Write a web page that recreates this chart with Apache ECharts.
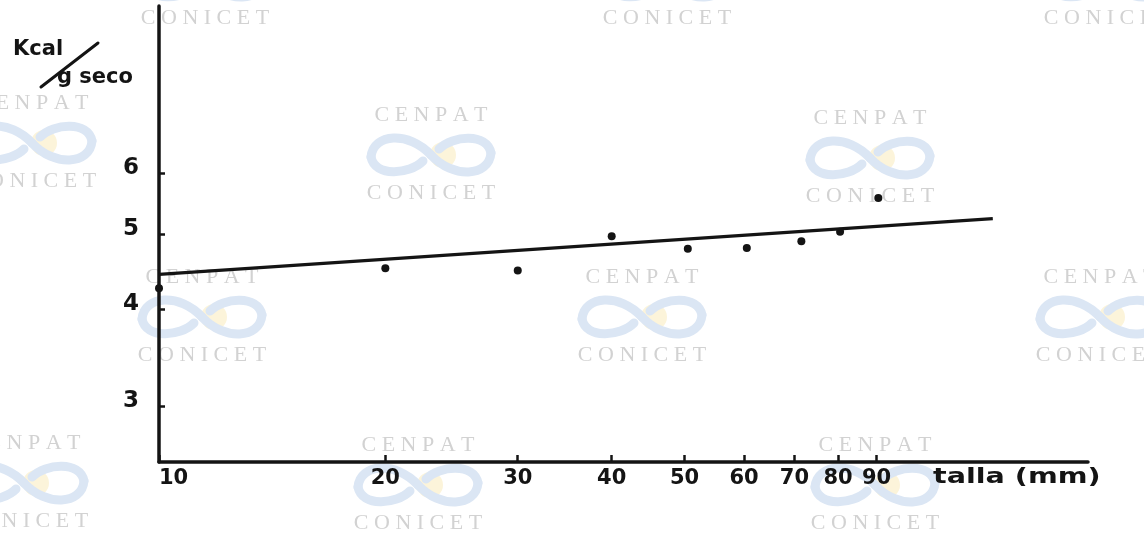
<!DOCTYPE html>
<html>
<head>
<meta charset="utf-8">
<title>Kcal / g seco vs talla</title>
<script src="https://cdn.jsdelivr.net/npm/echarts@6/dist/echarts.min.js"></script>
<style>
  html, body { margin: 0; padding: 0; background: #ffffff; }
  #chart { width: 1144px; height: 541px; }
</style>
</head>
<body>
<div id="chart"></div>
<script>
// Energy content (Kcal per g dry weight) against size class (mm), both axes logarithmic
const tallaTicks = [10, 20, 30, 40, 50, 60, 70, 80, 90];
const kcalTicks = [3, 4, 5, 6];

// measured points
const talla = [10, 20, 30, 40, 50.5, 60.5, 71.5, 80.5, 90.5];
const kcal  = [4.26, 4.52, 4.49, 4.97, 4.79, 4.80, 4.90, 5.04, 5.57];

// fitted regression line (end points)
const fitTalla = [10, 128.5];
const fitKcal  = [4.44, 5.24];

const xAxisTitle = 'talla (mm)';
const yAxisTop = 'Kcal';
const yAxisBottom = 'g seco';

const ink = '#141414';
const sans = 'DejaVu Sans';
const serif = 'Liberation Serif';

// Institutional watermark tiles: [centre x, y of the upper word]
const markTiles = [
  [205, -60], [667, -60], [1108, -60],
  [32, 103], [431, 115], [870, 118],
  [202, 277], [642, 277], [1100, 277],
  [24, 443], [418, 445], [875, 445]
];
const markTop = 'C E N P A T';
const markBottom = 'C O N I C E T';

// ribbon of the logo as cubic segments [x1,y1,cp1x,cp1y,cp2x,cp2y,x2,y2]
const ribbon = [
  [-60, 2, -58, -22, -22, -24, 0, 0],
  [0, 0, 22, 24, 58, 22, 60, -2],
  [60, -2, 56, -22, 22, -20, 8, -6],
  [-8, 6, -22, 20, -56, 22, -60, 2]
];

function watermarkTile(cx, cy) {
  const grey = '#d2d2d2';
  const els = [
    {
      type: 'circle', z: -6, silent: true,
      shape: { cx: cx + 12, cy: cy + 40, r: 13 },
      style: { fill: '#fcf4da' }
    }
  ];
  ribbon.forEach(s => els.push({
    type: 'bezierCurve', z: -5, silent: true,
    x: cx, y: cy + 40,
    shape: { x1: s[0], y1: s[1], cpx1: s[2], cpy1: s[3], cpx2: s[4], cpy2: s[5], x2: s[6], y2: s[7] },
    style: { fill: null, stroke: '#dbe6f4', lineWidth: 9, lineCap: 'round' }
  }));
  els.push(
    {
      type: 'text', z: -4, silent: true,
      x: cx, y: cy,
      style: { text: markTop, fontFamily: serif, fontSize: 22, fill: grey, align: 'center', verticalAlign: 'middle' }
    },
    {
      type: 'text', z: -4, silent: true,
      x: cx, y: cy + 78,
      style: { text: markBottom, fontFamily: serif, fontSize: 22, fill: grey, align: 'center', verticalAlign: 'middle' }
    }
  );
  return els;
}

const graphics = [];
markTiles.forEach(t => graphics.push(...watermarkTile(t[0], t[1])));

// y-axis title written as a fraction with a slanted bar, x-axis title after the ticks
graphics.push(
  {
    type: 'text', z: 20, x: 13, y: 50,
    style: { text: yAxisTop, fontFamily: sans, fontWeight: 'bold', fontSize: 21, fill: ink, align: 'left', verticalAlign: 'middle' }
  },
  {
    type: 'line', z: 20,
    shape: { x1: 41, y1: 87, x2: 98, y2: 43 },
    style: { stroke: ink, lineWidth: 3, lineCap: 'round' }
  },
  {
    type: 'text', z: 20, x: 57, y: 78,
    style: { text: yAxisBottom, fontFamily: sans, fontWeight: 'bold', fontSize: 21, fill: ink, align: 'left', verticalAlign: 'middle' }
  },
  {
    type: 'text', z: 20, x: 933, y: 477, scaleX: 1.3,
    style: { text: xAxisTitle, fontFamily: sans, fontWeight: 'bold', fontSize: 22, fill: ink, align: 'left', verticalAlign: 'middle' }
  }
);

const chart = echarts.init(document.getElementById('chart'), null, { renderer: 'canvas' });

chart.setOption({
  animation: false,
  backgroundColor: '#ffffff',
  grid: { left: 159, right: 56, top: 6, bottom: 79, containLabel: false, outerBoundsMode: 'none' },
  xAxis: {
    type: 'log',
    logBase: 10,
    min: 10,
    max: 172,
    axisLine: { show: true, onZero: false, lineStyle: { color: ink, width: 3.5 } },
    axisTick: {
      show: true, inside: true, length: 7,
      customValues: tallaTicks, lineStyle: { color: ink, width: 2.5 }
    },
    axisLabel: {
      customValues: tallaTicks,
      hideOverlap: false,
      formatter: v => String(Math.round(v)),
      color: ink, fontFamily: sans, fontWeight: 'bold', fontSize: 21, margin: 6,
      alignMinLabel: 'left'
    },
    splitLine: { show: false },
    minorTick: { show: false },
    minorSplitLine: { show: false }
  },
  yAxis: {
    type: 'log',
    logBase: 10,
    min: 2.543,
    max: 9.85,
    axisLine: { show: true, onZero: false, lineStyle: { color: ink, width: 3.5 } },
    axisTick: { show: true, inside: true, length: 6, customValues: kcalTicks, lineStyle: { color: ink, width: 2.5 } },
    axisLabel: {
      customValues: kcalTicks,
      formatter: v => String(Math.round(v)),
      color: ink, fontFamily: sans, fontWeight: 'bold', fontSize: 23, margin: 20,
      verticalAlign: 'bottom', lineHeight: 10
    },
    splitLine: { show: false },
    minorTick: { show: false },
    minorSplitLine: { show: false }
  },
  graphic: graphics,
  series: [
    {
      type: 'line',
      data: fitTalla.map((t, i) => [t, fitKcal[i]]),
      showSymbol: false,
      symbol: 'none',
      lineStyle: { color: ink, width: 3.2 },
      z: 3
    },
    {
      type: 'scatter',
      data: talla.map((t, i) => [t, kcal[i]]),
      symbol: 'circle',
      symbolSize: 8,
      itemStyle: { color: ink, opacity: 1 },
      z: 4
    }
  ]
});
</script>
</body>
</html>
